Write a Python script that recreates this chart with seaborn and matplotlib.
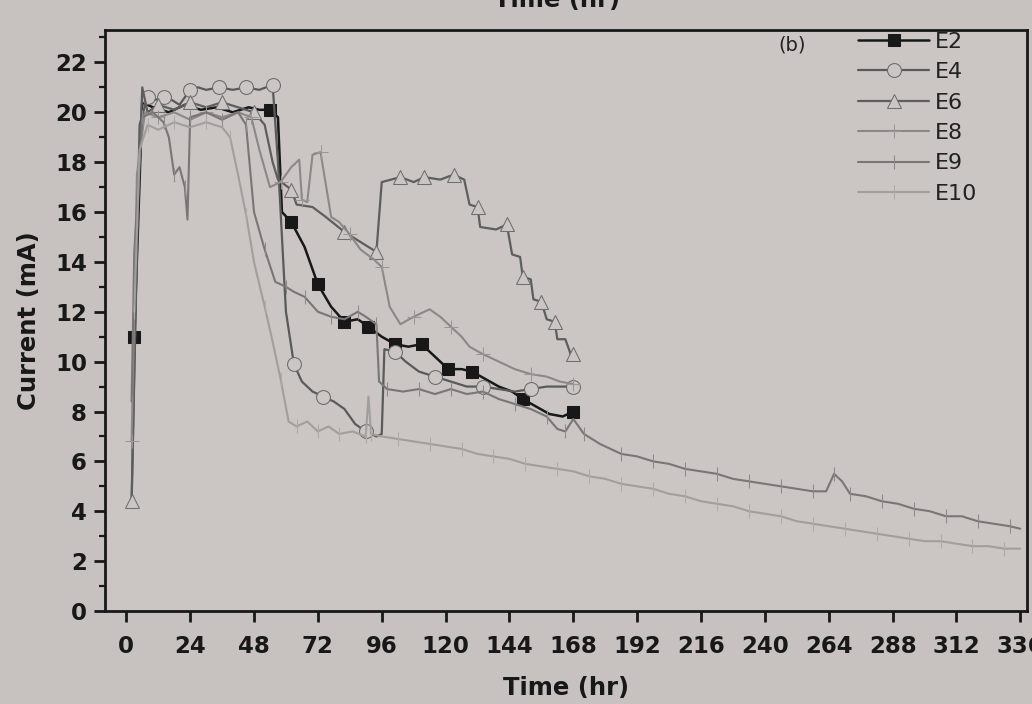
import numpy as np
import pandas as pd
import matplotlib
matplotlib.use("Agg")
import matplotlib.pyplot as plt
import seaborn as sns
from matplotlib.ticker import MultipleLocator

# values (time in hr, current in mA)
e2_t = [3, 6, 10, 16, 22, 28, 34, 40, 46, 50, 54, 57, 58.5, 62, 67, 72, 77, 82, 87, 91, 96,
        101, 106, 111, 116, 121, 126, 130, 135, 140, 145, 149, 154, 159, 164, 168]
e2_v = [11.0, 20.4, 20.2, 20.0, 20.3, 20.1, 20.2, 20.0, 20.2, 20.1, 20.1, 19.8, 16.0, 15.6, 14.6,
        13.1, 12.2, 11.6, 11.7, 11.4, 11.0, 10.7, 10.6, 10.7, 10.2, 9.7, 9.7, 9.6, 9.3, 9.0,
        8.8, 8.5, 8.2, 7.9, 7.8, 8.0]

e4_t = [2, 5, 8, 11, 14, 17, 20, 24, 27, 30, 35, 40, 45, 50, 55, 57, 60, 63, 66, 70, 74, 78,
        82, 86, 90, 94, 96, 97, 101, 105, 110, 116, 122, 128, 134, 140, 146, 152, 158, 163, 168]
e4_v = [4.3, 19.5, 20.6, 20.5, 20.6, 20.5, 20.3, 20.9, 21.0, 20.9, 21.0, 20.9, 21.0, 20.9, 21.1,
        18.0, 12.0, 9.9, 9.2, 8.8, 8.6, 8.4, 8.1, 7.5, 7.2, 7.0, 7.1, 10.5, 10.4, 10.0, 9.6, 9.4,
        9.2, 9.0, 9.0, 8.9, 8.8, 8.9, 9.0, 9.0, 9.0]

e6_t = [2, 4, 6, 8, 12, 18, 24, 30, 36, 42, 48, 52, 55, 57, 62, 64, 70, 75, 82, 88, 94, 96,
        103, 108, 112, 118, 123, 127, 129, 132, 133, 139, 143, 145, 148, 149, 152, 153, 156,
        158, 161, 162, 165, 167, 168]
e6_v = [4.4, 15.0, 21.0, 20.0, 20.3, 20.1, 20.4, 20.2, 20.4, 20.2, 20.0, 19.5, 18.0, 17.3, 16.9,
        16.3, 16.2, 15.8, 15.2, 14.8, 14.4, 17.2, 17.4, 17.2, 17.4, 17.3, 17.5, 17.3, 16.3, 16.2,
        15.4, 15.3, 15.5, 14.3, 14.2, 13.4, 13.3, 12.5, 12.4, 11.7, 11.6, 10.9, 10.9, 10.3, 10.3]

e8_t = [2, 4, 7, 12, 18, 24, 30, 36, 42, 47, 50, 54, 58, 62, 65, 66, 68, 70, 73, 77, 80, 84,
        88, 93, 96, 99, 103, 108, 114, 118, 122, 126, 129, 134, 140, 146, 152, 158, 163, 168]
e8_v = [6.8, 17.5, 20.0, 19.8, 20.0, 19.7, 20.0, 19.8, 20.0, 19.8, 18.5, 17.0, 17.2, 17.8, 18.1,
        16.5, 16.4, 18.3, 18.4, 15.8, 15.6, 15.1, 14.5, 14.1, 13.8, 12.2, 11.5, 11.8, 12.1, 11.8,
        11.4, 11.0, 10.6, 10.3, 10.0, 9.7, 9.5, 9.4, 9.2, 9.1]

e9_t = [2, 3, 6, 10, 14, 16, 18, 20, 22, 23, 24, 30, 36, 42, 45, 48, 52, 56, 60, 63, 67, 72,
        77, 82, 87, 90, 94, 95, 98, 104, 110, 116, 122, 128, 134, 140, 146, 152, 158, 162, 165,
        168, 172, 178, 186, 192, 198, 204, 210, 216, 222, 228, 234, 240, 246, 252, 258, 263,
        266, 269, 272, 278, 284, 290, 296, 302, 308, 314, 320, 326, 332, 336]
e9_v = [8.4, 14.4, 19.8, 20.0, 19.6, 19.0, 17.5, 17.8, 17.0, 15.7, 19.8, 20.0, 19.7, 20.0, 19.5,
        16.0, 14.5, 13.2, 13.0, 12.8, 12.6, 12.0, 11.8, 11.7, 12.0, 11.8, 11.5, 9.2, 8.9, 8.8,
        8.9, 8.7, 8.9, 8.7, 8.8, 8.5, 8.3, 8.1, 7.8, 7.3, 7.2, 7.7, 7.1, 6.7, 6.3, 6.2, 6.0, 5.9,
        5.7, 5.6, 5.5, 5.3, 5.2, 5.1, 5.0, 4.9, 4.8, 4.8, 5.5, 5.2, 4.7, 4.6, 4.4, 4.3, 4.1, 4.0,
        3.8, 3.8, 3.6, 3.5, 3.4, 3.3]

e10_t = [3, 5, 8, 12, 18, 24, 30, 36, 39, 42, 45, 48, 52, 55, 58, 61, 64, 68, 72, 76, 80, 85,
         90, 91, 92, 96, 102, 108, 114, 120, 126, 132, 138, 144, 150, 156, 162, 168, 174, 180,
         186, 192, 198, 204, 210, 216, 222, 228, 234, 240, 246, 252, 258, 264, 270, 276, 282,
         288, 294, 300, 306, 312, 318, 324, 330, 336]
e10_v = [12.0, 18.5, 19.5, 19.3, 19.6, 19.4, 19.6, 19.4, 19.0, 17.5, 15.9, 14.0, 12.2, 10.8, 9.3,
         7.6, 7.4, 7.6, 7.2, 7.4, 7.1, 7.2, 7.0, 8.6, 7.1, 7.0, 6.9, 6.8, 6.7, 6.6, 6.5, 6.3, 6.2,
         6.1, 5.9, 5.8, 5.7, 5.6, 5.4, 5.3, 5.1, 5.0, 4.9, 4.7, 4.6, 4.4, 4.3, 4.2, 4.0, 3.9, 3.8,
         3.6, 3.5, 3.4, 3.3, 3.2, 3.1, 3.0, 2.9, 2.8, 2.8, 2.7, 2.6, 2.6, 2.5, 2.5]

paper = "#cbc6c3"
ink = "#181818"

sns.set_theme(style="ticks")
plt.rcParams["font.family"] = ["DejaVu Sans"]

fig = plt.figure(figsize=(10.32, 7.04), dpi=100, facecolor="#c7c2bf")
ax = fig.add_axes([105 / 1032, 1 - 611 / 704, 922 / 1032, 581 / 704])
ax.set_facecolor(paper)

series = [
    ("E2", e2_t, e2_v, dict(color=ink, marker="s", ms=8, mfc=ink, mec=ink,
                            lw=1.8, markevery=[0, 10, 13, 15, 17, 19, 21, 23, 25, 27, 31, 35])),
    ("E4", e4_t, e4_v, dict(color="#5a5a5a", marker="o", ms=10, mfc=paper, mec="#6a6a6a",
                            lw=1.6, markevery=[2, 4, 7, 10, 12, 14, 17, 20, 24, 28, 31, 34, 37, 40])),
    ("E6", e6_t, e6_v, dict(color="#5e5e5e", marker="^", ms=10, mfc=paper, mec="#6e6e6e",
                            lw=1.6, markevery=[0, 4, 6, 8, 10, 14, 18, 20, 22, 24, 26, 29, 32, 35, 38, 40, 44])),
    ("E8", e8_t, e8_v, dict(color="#8c8888", marker="+", ms=10, mec="#9a9696",
                            lw=1.5, markevery=3)),
    ("E9", e9_t, e9_v, dict(color="#7a7676", marker="|", ms=10, mec="#8e8a8a",
                            lw=1.5, markevery=2)),
    ("E10", e10_t, e10_v, dict(color="#a29e9c", marker="|", ms=10, mec="#adaaa8",
                               lw=1.5, markevery=2)),
]

for name, t, v, style in series:
    df = pd.DataFrame({"Time (hr)": t, "Current (mA)": v})
    sns.lineplot(data=df, x="Time (hr)", y="Current (mA)", ax=ax, label=name,
                 estimator=None, sort=False, **style)

ax.set_xlim(-8.0, 338.5)
ax.set_ylim(0, 23.3)
ax.set_xticks(np.arange(0, 337, 24))
ax.xaxis.set_ticklabels([str(x) for x in range(0, 337, 24)])
ax.yaxis.set_major_locator(MultipleLocator(2))
ax.yaxis.set_minor_locator(MultipleLocator(1))
ax.tick_params(axis="both", which="major", direction="out", length=8, width=2,
               labelsize=16.5, colors=ink)
ax.tick_params(axis="x", which="major", pad=9)
ax.tick_params(axis="y", which="major", pad=5)
ax.tick_params(axis="y", which="minor", direction="out", length=4, width=1.6, colors=ink)
for lab in ax.get_xticklabels() + ax.get_yticklabels():
    lab.set_fontweight("bold")
for sp in ax.spines.values():
    sp.set_visible(True)
    sp.set_linewidth(2)
    sp.set_color(ink)

ax.set_xlabel("Time (hr)", fontsize=17.5, fontweight="bold", color=ink, labelpad=13)
ax.set_ylabel("Current (mA)", fontsize=17.5, fontweight="bold", color=ink, labelpad=10)

ax.text(0.745, 0.975, "(b)", transform=ax.transAxes, fontsize=14, color="#222222",
        va="center", ha="center")
# lower half of the label from the panel above, cut by the photo edge
fig.text(0.54, 1.0, "Time (hr)", fontsize=17.5, fontweight="bold", color=ink,
         ha="center", va="center")

leg = ax.legend(loc="upper left", bbox_to_anchor=(0.80, 1.024), frameon=False, fontsize=16,
                handlelength=3.2, handletextpad=0.25, labelspacing=0.47, borderpad=0.2,
                numpoints=1)
for txt in leg.get_texts():
    txt.set_color("#222222")

fig.savefig("out.png", dpi=100, facecolor=fig.get_facecolor())
